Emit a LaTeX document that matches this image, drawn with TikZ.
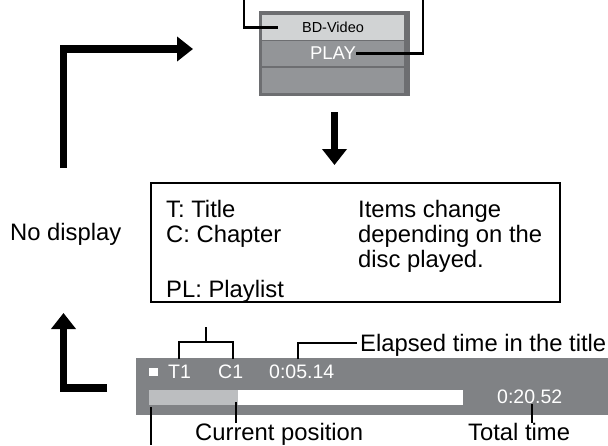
\documentclass[tikz,border=0pt]{standalone}
\usepackage{fontspec}
\setmainfont{Liberation Sans}
\usepackage{xcolor}
\usetikzlibrary{arrows.meta, positioning, calc}
\definecolor{pframe}{HTML}{6D6E71}
\definecolor{prowlight}{HTML}{D1D3D4}
\definecolor{prow}{HTML}{939598}
\definecolor{pbar}{HTML}{808285}
\definecolor{pfill}{HTML}{BCBEC0}

\begin{document}
\begin{tikzpicture}[x=1pt, y=-1pt,
  callout/.style={line width=2.2pt},
  bigarrow/.style={line width=7.5pt, -{Triangle[length=16pt, width=24pt]}},
  lbl/.style={font=\fontsize{23.8}{28}\selectfont, inner sep=0pt, anchor=base west},
  bartxt/.style={font=\fontsize{19.5}{23}\selectfont, text=white, inner sep=0pt, anchor=base west},
  menurow/.style={minimum width=142pt, minimum height=25pt, inner sep=0pt}]
\useasboundingbox (0,0) rectangle (608,445);
% menu on the screen
\node[fill=pframe, minimum width=151pt, minimum height=85pt, inner sep=0pt] (menu) at (334.5,53.5) {};
\node[menurow, fill=prowlight] (bdrow) at (333,27.5) {};
\node[menurow, fill=prow] (playrow) at (333,53.5) {};
\node[menurow, fill=prow] (emptyrow) at (333,80.5) {};
\node[font=\fontsize{14.5}{17}\selectfont, inner sep=0pt] (bdtxt) at (bdrow) {BD-Video};
\node[font=\fontsize{18.5}{21}\selectfont, text=white, inner sep=0pt] (playtxt) at (playrow) {PLAY};
\draw[callout] (244,0) |- ([xshift=-24pt]bdtxt.west);
\draw[callout] (423,0) |- (playtxt.east);
% info box
\node[draw, line width=2pt, minimum width=409pt, minimum height=119pt, inner sep=0pt] (info) at (355.5,242.5) {};
\draw[bigarrow] ([yshift=-16pt]menu.south) -- ([yshift=17pt]menu.south |- info.north);
\node[lbl] (ttitle) at (166,217) {T: Title};
\node[lbl] (cchap) at (166,242) {C: Chapter};
\node[lbl] (plist) at (166,297) {PL: Playlist};
\node[lbl] (items1) at (358,217) {Items change};
\node[lbl] (items2) at (358,242) {depending on the};
\node[lbl] (items3) at (358,267) {disc played.};
\node[lbl] (nodisp) at (10,240) {No display};
% arrows round the cycle
\draw[bigarrow] (63.5,168) -- (63.5,49) -- (193,49);
\draw[bigarrow] (107,388) -- (63.5,388) -- (63.5,313);
% status bar
\node[fill=pbar, minimum width=472pt, minimum height=57pt, inner sep=0pt] (bar) at (372,386.5) {};
\fill[white] (149,390) rectangle (463,405);
\fill[pfill] (149,390) rectangle (238,405);
\fill[white] (149,368) rectangle (158,376);
\node[bartxt] (tnum) at (168,378) {T1};
\node[bartxt] (cnum) at (218,378) {C1};
\node[bartxt] (elapsed) at (269,378) {0:05.14};
\node[bartxt] (total) at (497,403) {0:20.52};
% callouts of the bar
\draw[callout] (179,359) -- (179,342) -- (233,342) -- (233,359);
\draw[callout] (206,342) -- (206,327);
\node[lbl] (elapsedlbl) at (360,351) {Elapsed time in the title};
\draw[callout] (298,359) |- ([xshift=-3pt,yshift=8pt]elapsedlbl.base west);
\node[lbl] (curlbl) at (195,440) {Current position};
\node[lbl] (totlbl) at (468,440) {Total time};
\draw[callout] (236,402) -- (236,423);
\draw[callout] (532,404) -- (532,423);
\draw[callout] (151,407) -- (151,445);
\end{tikzpicture}
\end{document}
